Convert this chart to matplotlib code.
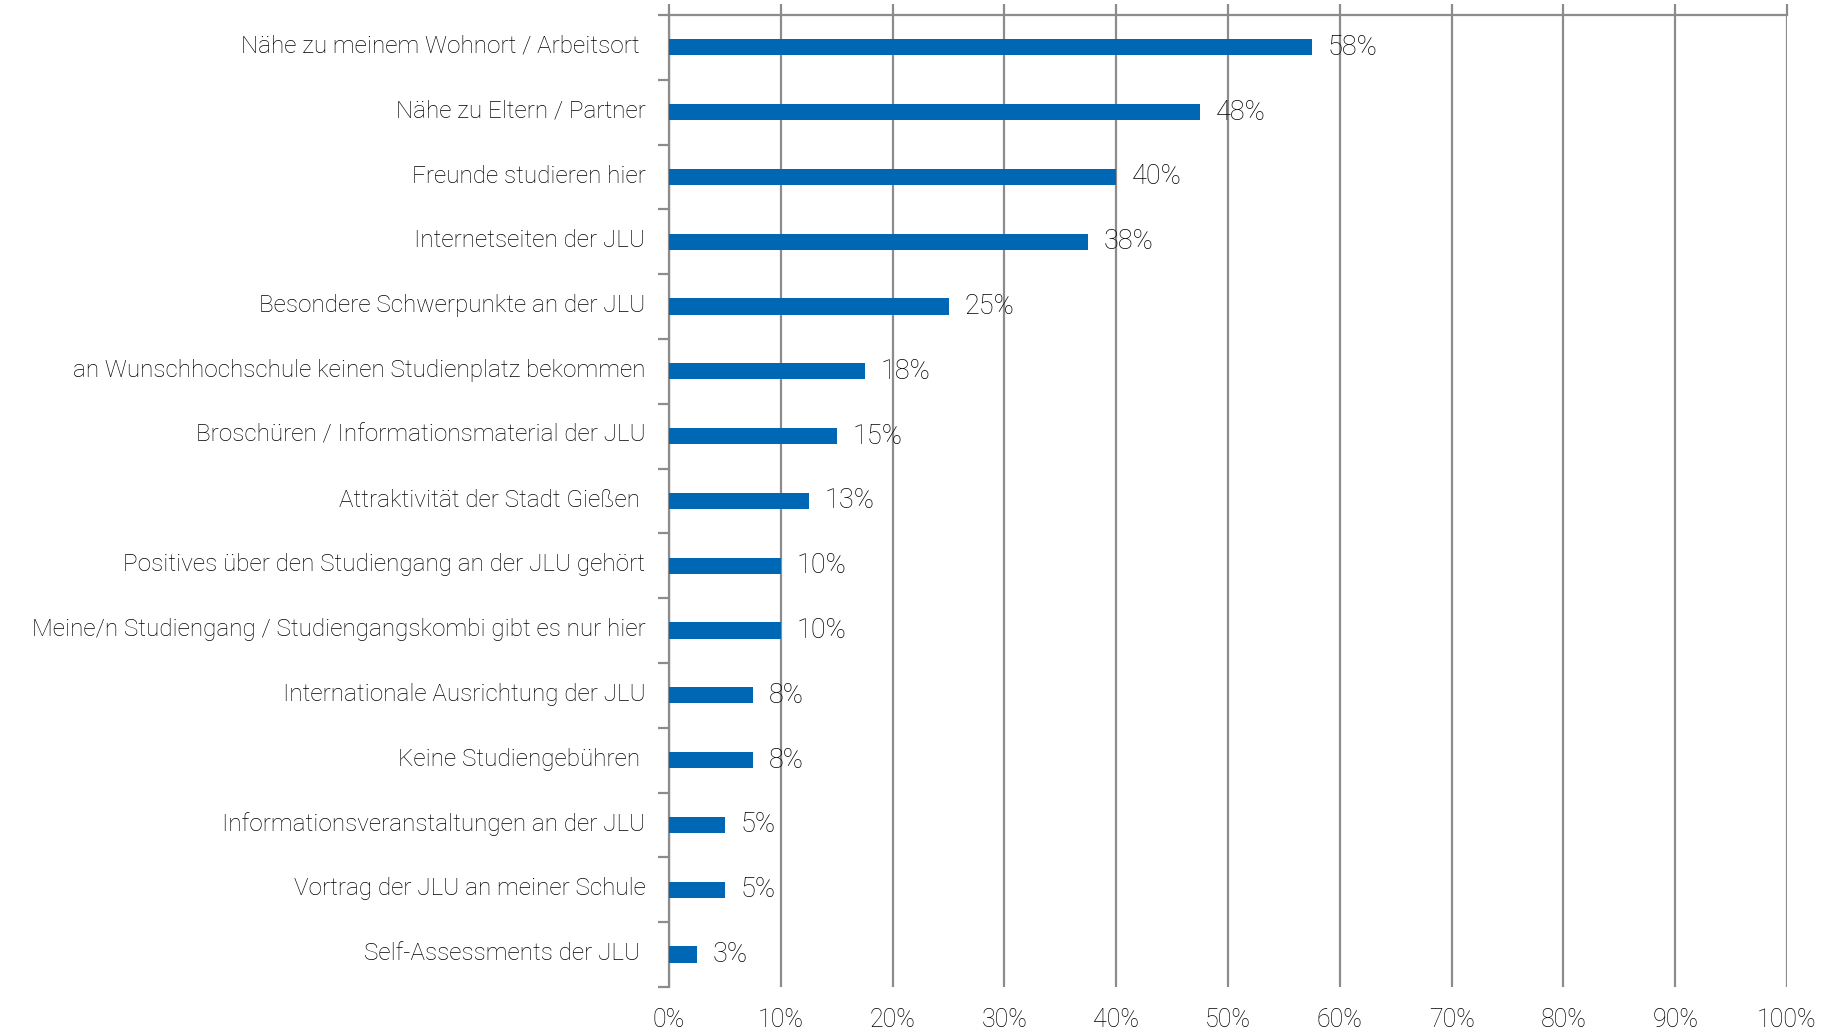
import numpy as np
import matplotlib
matplotlib.use("Agg")
import matplotlib.pyplot as plt
from matplotlib.transforms import ScaledTranslation

# Gründe für die Wahl der JLU (Anteil in %)
categories = [
	"Nähe zu meinem Wohnort / Arbeitsort ",
	"Nähe zu Eltern / Partner",
	"Freunde studieren hier",
	"Internetseiten der JLU",
	"Besondere Schwerpunkte an der JLU",
	"an Wunschhochschule keinen Studienplatz bekommen",
	"Broschüren / Informationsmaterial der JLU",
	"Attraktivität der Stadt Gießen ",
	"Positives über den Studiengang an der JLU gehört",
	"Meine/n Studiengang / Studiengangskombi gibt es nur hier",
	"Internationale Ausrichtung der JLU",
	"Keine Studiengebühren ",
	"Informationsveranstaltungen an der JLU",
	"Vortrag der JLU an meiner Schule",
	"Self-Assessments der JLU ",
]
values = [57.5, 47.5, 40.0, 37.5, 25.0, 17.5, 15.0, 12.5, 10.0, 10.0, 7.5, 7.5, 5.0, 5.0, 2.5]
value_labels = ["58%", "48%", "40%", "38%", "25%", "18%", "15%", "13%", "10%", "10%",
				"8%", "8%", "5%", "5%", "3%"]
x_ticks = list(range(0, 101, 10))

plt.rcParams['font.family'] = ['Roboto', 'DejaVu Sans']
plt.rcParams['font.weight'] = 'light'

grey = "#8c8c8c"
blue = "#0067b4"
txt = "#000000"

fig = plt.figure(figsize=(18.41, 10.34), dpi=100)
ax = fig.add_axes([0.3634, 0.0455, 0.6073, 0.94])

n = len(categories)
y = np.arange(n)
ax.barh(y, values, height=0.25, color=blue, zorder=3)
for yi, v, lab in zip(y, values, value_labels):
	ax.text(v + 1.4, yi, lab, va='center', ha='left', fontsize=19.5, color=txt, zorder=4,
			fontweight='light')

ax.set_xlim(0, 100)
ax.set_ylim(n - 0.5, -0.5)
ax.set_xticks(x_ticks)
ax.set_xticklabels([f"{t}%" for t in x_ticks], fontsize=18, color=txt)
ax.xaxis.grid(True, color=grey, linewidth=1.6, zorder=0)
ax.tick_params(axis='x', top=True, bottom=False, labeltop=False, labelbottom=True,
			   direction='out', length=8, width=1.6, color=grey, pad=7)

# kategorien-beschriftung mittig, ticks an den grenzen
ax.set_yticks(y)
ax.set_yticklabels(categories, fontsize=17.5, color=txt)
ax.tick_params(axis='y', which='major', length=0, pad=17)
ax.set_yticks(np.arange(-0.5, n, 1.0), minor=True)
ax.tick_params(axis='y', which='minor', length=8, width=1.6, color=grey, direction='out')
shift = ScaledTranslation(0, 2.5 / 72, fig.dpi_scale_trans)
for t in ax.get_yticklabels():
	t.set_transform(t.get_transform() + shift)

for side in ['right', 'bottom']:
	ax.spines[side].set_visible(False)
for side in ['top', 'left']:
	ax.spines[side].set_color(grey)
	ax.spines[side].set_linewidth(1.6)

fig.savefig("out.png", dpi=100)
